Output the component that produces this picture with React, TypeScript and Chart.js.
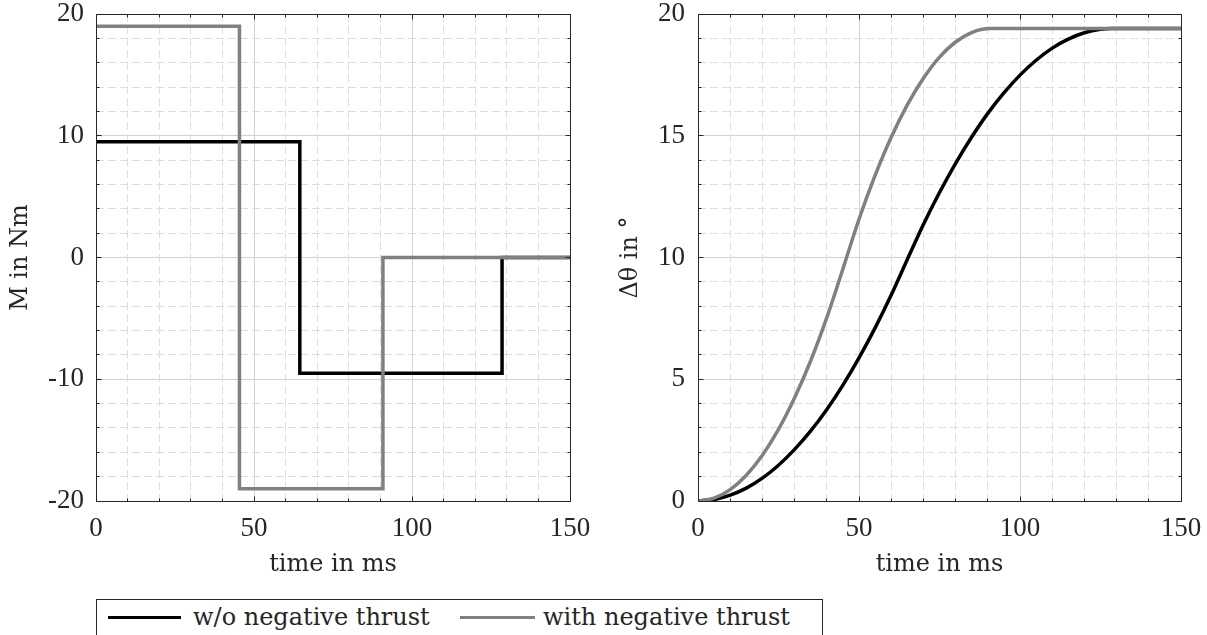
import React, { useEffect, useRef } from "react";
import { Chart, registerables } from "chart.js";

Chart.register(...registerables);

const TICK_FONT = "'Liberation Serif', serif";
const TITLE_FONT = "'DejaVu Serif', 'Liberation Serif', serif";
const TEXT = "#262626";

// ---- data ----
const seriesLabels = ["w/o negative thrust", "with negative thrust"];
const seriesColors = ["#000000", "#808080"];

// left plot: torque M in Nm (step profile)
const torqueTimeWithout = [0, 64.5, 64.5, 128.5, 128.5, 150];
const torqueWithout = [9.5, 9.5, -9.5, -9.5, 0, 0];
const torqueTimeWith = [0, 45.4, 45.4, 90.8, 90.8, 150];
const torqueWith = [19, 19, -19, -19, 0, 0];

// right plot: angle change in degrees
const angleTimeWithout = [0, 5, 10, 15, 20, 25, 30, 35, 40, 45, 50, 55, 60, 65, 70, 75, 80, 85, 90, 95, 100, 105, 110, 115, 120, 125, 128.5, 150];
const angleWithout = [0, 0.06, 0.24, 0.53, 0.94, 1.47, 2.12, 2.88, 3.76, 4.76, 5.88, 7.11, 8.46, 9.92, 11.36, 12.67, 13.87, 14.95, 15.92, 16.76, 17.49, 18.1, 18.6, 18.97, 19.23, 19.37, 19.4, 19.4];
const angleTimeWith = [0, 5, 10, 15, 20, 25, 30, 35, 40, 45, 50, 55, 60, 65, 70, 75, 80, 85, 90.8, 150];
const angleWith = [0, 0.12, 0.47, 1.06, 1.88, 2.94, 4.24, 5.76, 7.53, 9.53, 11.57, 13.37, 14.94, 16.27, 17.36, 18.23, 18.85, 19.24, 19.4, 19.4];

const xTitle = "time in ms";
const leftYTitle = "M in Nm";
const rightYTitle = "Δθ in °";

const toPoints = (xs: number[], ys: number[]) => xs.map((x, i) => ({ x, y: ys[i] }));

const isMajor = (v: number, step: number) => Math.abs(v / step - Math.round(v / step)) < 1e-6;

const framePlugin = {
  id: "frame",
  beforeDatasetsDraw(chart: any, _args: any, o: any) {
    const { ctx, chartArea: a, scales } = chart;
    const x = scales.x;
    const y = scales.y;
    const al = (p: number) => Math.round(p - 0.5) + 0.5;
    ctx.save();
    ctx.strokeStyle = "#dedede";
    ctx.lineWidth = 1;
    ctx.setLineDash([8, 4]);
    ctx.beginPath();
    for (let v = x.min; v <= x.max + 1e-9; v += o.xMinor) {
      if (isMajor(v, o.xMajor)) continue;
      const p = al(x.getPixelForValue(v));
      ctx.moveTo(p, a.top);
      ctx.lineTo(p, a.bottom);
    }
    for (let v = y.min; v <= y.max + 1e-9; v += o.yMinor) {
      if (isMajor(v, o.yMajor)) continue;
      const p = al(y.getPixelForValue(v));
      ctx.moveTo(a.left, p);
      ctx.lineTo(a.right, p);
    }
    ctx.stroke();
    ctx.restore();
  },
  afterDatasetsDraw(chart: any, _args: any, o: any) {
    const { ctx, chartArea: a, scales } = chart;
    const x = scales.x;
    const y = scales.y;
    const al = (p: number) => Math.round(p - 0.5) + 0.5;
    const L = al(a.left), R = al(a.right), T = al(a.top), B = al(a.bottom);
    ctx.save();
    ctx.strokeStyle = TEXT;
    ctx.lineWidth = 1;
    ctx.setLineDash([]);
    ctx.beginPath();
    ctx.rect(L, T, R - L, B - T);
    for (let v = x.min; v <= x.max + 1e-9; v += o.xMinor) {
      const len = isMajor(v, o.xMajor) ? 5 : 3;
      const p = al(x.getPixelForValue(v));
      ctx.moveTo(p, B);
      ctx.lineTo(p, B - len);
      ctx.moveTo(p, T);
      ctx.lineTo(p, T + len);
    }
    for (let v = y.min; v <= y.max + 1e-9; v += o.yMinor) {
      const len = isMajor(v, o.yMajor) ? 5 : 3;
      const p = al(y.getPixelForValue(v));
      ctx.moveTo(L, p);
      ctx.lineTo(L + len, p);
      ctx.moveTo(R, p);
      ctx.lineTo(R - len, p);
    }
    ctx.stroke();
    ctx.restore();
  },
};

type Cfg = {
  sets: { xs: number[]; ys: number[] }[];
  smooth: boolean;
  yMin: number;
  yMax: number;
  yStep: number;
  yMinor: number;
  yTitle: string;
  yTitlePad: number;
  yTickPad: number;
  yAxisWidth: number;
  rightPad: number;
};

function makeConfig(c: Cfg): any {
  const tickFont = { family: TICK_FONT, size: 27, lineHeight: 1 };
  const titleFont = { family: TITLE_FONT, size: 24, lineHeight: 1 };
  return {
    type: "line",
    data: {
      datasets: c.sets.map((s, i) => ({
        label: seriesLabels[i],
        data: toPoints(s.xs, s.ys),
        borderColor: seriesColors[i],
        backgroundColor: seriesColors[i],
        borderWidth: 3.5,
        pointRadius: 0,
        fill: false,
        borderJoinStyle: "miter",
        borderCapStyle: "butt",
        cubicInterpolationMode: c.smooth ? "monotone" : "default",
        tension: 0,
        order: i === 0 ? 2 : 1,
      })),
    },
    options: {
      animation: false,
      responsive: false,
      events: [],
      layout: { padding: { top: 14, right: c.rightPad, left: 0, bottom: 0 } },
      plugins: {
        legend: { display: false },
        tooltip: { enabled: false },
        frame: { xMinor: 10, xMajor: 50, yMinor: c.yMinor, yMajor: c.yStep },
      },
      scales: {
        x: {
          type: "linear",
          min: 0,
          max: 150,
          afterFit: (s: any) => {
            s.height = 77;
            s.paddingLeft = 0;
            s.paddingRight = 0;
          },
          ticks: { stepSize: 50, padding: 14, color: TEXT, font: tickFont, maxRotation: 0, autoSkip: false },
          grid: { color: "#d2d2d2", lineWidth: 1, drawTicks: false },
          border: { display: false },
          title: { display: true, text: xTitle, color: TEXT, font: titleFont, padding: { top: 0, bottom: 1 } },
        },
        y: {
          type: "linear",
          min: c.yMin,
          max: c.yMax,
          afterFit: (s: any) => {
            s.width = c.yAxisWidth;
            s.paddingTop = 0;
            s.paddingBottom = 0;
          },
          ticks: { stepSize: c.yStep, padding: c.yTickPad, color: TEXT, font: tickFont, autoSkip: false },
          grid: { color: "#d2d2d2", lineWidth: 1, drawTicks: false },
          border: { display: false },
          title: { display: true, text: c.yTitle, color: TEXT, font: titleFont, padding: { top: c.yTitlePad, bottom: 0 } },
        },
      },
    },
    plugins: [framePlugin],
  };
}

export default function App() {
  const leftRef = useRef<HTMLCanvasElement>(null);
  const rightRef = useRef<HTMLCanvasElement>(null);

  useEffect(() => {
    const c1 = new Chart(
      leftRef.current as HTMLCanvasElement,
      makeConfig({
        sets: [
          { xs: torqueTimeWithout, ys: torqueWithout },
          { xs: torqueTimeWith, ys: torqueWith },
        ],
        smooth: false,
        yMin: -20,
        yMax: 20,
        yStep: 10,
        yMinor: 2,
        yTitle: leftYTitle,
        yTitlePad: 9,
        yTickPad: 12,
        yAxisWidth: 96,
        rightPad: 30,
      })
    );
    const c2 = new Chart(
      rightRef.current as HTMLCanvasElement,
      makeConfig({
        sets: [
          { xs: angleTimeWithout, ys: angleWithout },
          { xs: angleTimeWith, ys: angleWith },
        ],
        smooth: true,
        yMin: 0,
        yMax: 20,
        yStep: 5,
        yMinor: 1,
        yTitle: rightYTitle,
        yTitlePad: 19,
        yTickPad: 13,
        yAxisWidth: 98,
        rightPad: 26,
      })
    );
    return () => {
      c1.destroy();
      c2.destroy();
    };
  }, []);

  const legendText: React.CSSProperties = {
    position: "absolute",
    top: 605,
    fontFamily: TITLE_FONT,
    fontSize: 24,
    lineHeight: "24px",
    color: TEXT,
    whiteSpace: "nowrap",
  };

  return (
    <div
      style={{
        position: "fixed",
        left: 0,
        top: 0,
        width: 1207,
        height: 635,
        overflow: "hidden",
        background: "#ffffff",
      }}
    >
      <canvas ref={leftRef} width={600} height={578} style={{ position: "absolute", left: 0, top: 0, width: 600, height: 578 }} />
      <canvas ref={rightRef} width={607} height={578} style={{ position: "absolute", left: 600, top: 0, width: 607, height: 578 }} />
      <div
        style={{
          position: "absolute",
          left: 96,
          top: 599,
          width: 727,
          height: 60,
          border: `1px solid ${TEXT}`,
          boxSizing: "border-box",
          background: "#fff",
        }}
      />
      <div style={{ position: "absolute", left: 108, top: 616, width: 73, height: 3, background: seriesColors[0] }} />
      <span style={{ ...legendText, left: 193 }}>{seriesLabels[0]}</span>
      <div style={{ position: "absolute", left: 460, top: 616, width: 75, height: 3, background: seriesColors[1] }} />
      <span style={{ ...legendText, left: 543 }}>{seriesLabels[1]}</span>
    </div>
  );
}
